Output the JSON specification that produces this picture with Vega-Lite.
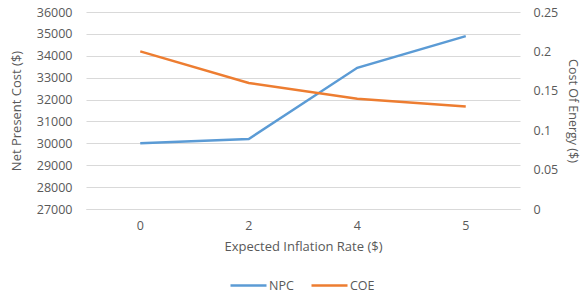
{
  "$schema": "https://vega.github.io/schema/vega-lite/v6.json",
  "width": 434,
  "height": 197,
  "autosize": "none",
  "padding": {"left": 86, "top": 12, "right": 64, "bottom": 84},
  "config": {
    "view": {"stroke": null},
    "font": "Open Sans",
    "axis": {"labelColor": "#595959", "titleColor": "#595959", "labelFontSize": 12.5, "titleFontSize": 13, "titleFontWeight": "normal", "gridColor": "#D9D9D9", "domainColor": "#D9D9D9", "ticks": false, "labelOverlap": false},
    "legend": {"labelColor": "#595959", "labelFontSize": 12.5}
  },
  "data": {"values": [
    {"rate": "0", "npc": 30000, "coe": 0.2},
    {"rate": "2", "npc": 30200, "coe": 0.16},
    {"rate": "4", "npc": 33450, "coe": 0.14},
    {"rate": "5", "npc": 34900, "coe": 0.13}
  ]},
  "encoding": {
    "x": {"field": "rate", "type": "ordinal", "scale": {"type": "band", "paddingInner": 0, "paddingOuter": 0}, "axis": {"title": "Expected Inflation Rate ($)", "labelAngle": 0, "labelPadding": 10, "titlePadding": 9, "domain": true, "grid": false}}
  },
  "layer": [
    {
      "mark": {"type": "line", "strokeWidth": 2.5},
      "encoding": {
        "x": {"field": "rate", "type": "ordinal", "bandPosition": 0.5},
        "y": {"field": "npc", "type": "quantitative", "scale": {"domain": [27000, 36000], "nice": false, "zero": false}, "axis": {"title": "Net Present Cost ($)", "grid": true, "values": [27000, 28000, 29000, 30000, 31000, 32000, 33000, 34000, 35000, 36000], "format": "d", "domain": false, "labelPadding": 14, "titlePadding": 13}},
        "color": {"datum": "NPC", "type": "nominal", "scale": {"domain": ["NPC", "COE"], "range": ["#5B9BD5", "#ED7D31"]}, "legend": {"title": null, "orient": "none", "legendX": 143, "legendY": 254, "direction": "horizontal", "symbolType": "stroke", "symbolSize": 1296, "symbolStrokeWidth": 2.5, "columnPadding": 12, "labelOffset": 1}}
      }
    },
    {
      "mark": {"type": "line", "strokeWidth": 2.5},
      "encoding": {
        "x": {"field": "rate", "type": "ordinal", "bandPosition": 0.5},
        "y": {"field": "coe", "type": "quantitative", "scale": {"domain": [0, 0.25], "nice": false}, "axis": {"title": "Cost Of Energy ($)", "titleFontSize": 12.5, "orient": "right", "values": [0, 0.05, 0.1, 0.15, 0.2, 0.25], "format": "~g", "grid": false, "domain": false, "labelPadding": 13, "titlePadding": 8}},
        "color": {"datum": "COE", "type": "nominal"}
      }
    }
  ],
  "resolve": {"scale": {"y": "independent"}}
}
